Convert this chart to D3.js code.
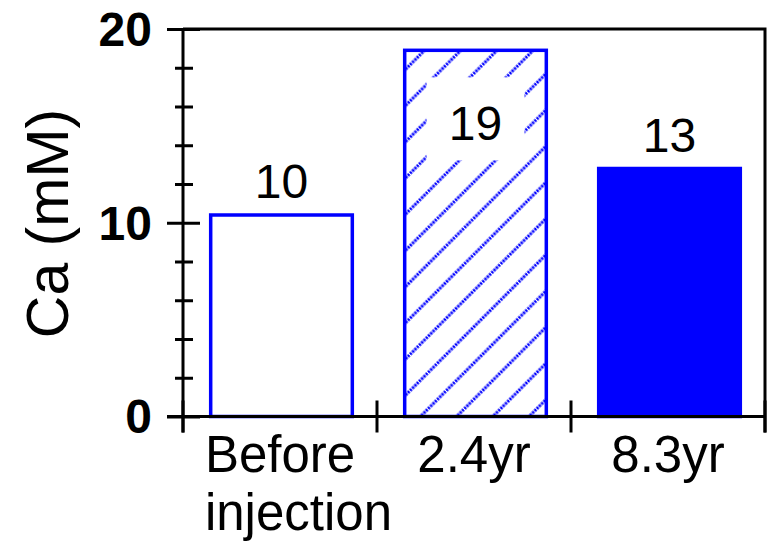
<!DOCTYPE html>
<html>
<head>
<meta charset="utf-8">
<script src="https://cdn.jsdelivr.net/npm/d3@7"></script>
<style>
  body { margin: 0; background: #fff; }
  text { font-family: "Liberation Sans", Arial, sans-serif; fill: #000; }
</style>
</head>
<body>
<div id="chart"></div>
<script>
// data
const categories = ["Before injection", "2.4yr", "8.3yr"];
const caValues = [10.4, 18.9, 12.8];
const valueLabels = ["10", "19", "13"];
const yMajorTicks = [0, 10, 20];
const yMinorTicks = [2, 4, 6, 8, 12, 14, 16, 18];

// styles, one per bar
const barFills = ["#ffffff", "url(#hatch)", "#0000ff"];
const blue = "#0000ff";

const W = 771, H = 546;
const plot = {left: 183, right: 765, top: 29, bottom: 416.5};

const svg = d3.select("#chart").append("svg")
    .attr("width", W)
    .attr("height", H);

// hatch pattern for the middle bar
const defs = svg.append("defs");
const pat = defs.append("pattern")
    .attr("id", "hatch")
    .attr("patternUnits", "userSpaceOnUse")
    .attr("width", 25.6)
    .attr("height", 25.6)
    .attr("patternTransform", "rotate(45)");
pat.append("rect").attr("width", 25.6).attr("height", 25.6).attr("fill", "#fff");
pat.append("line")
    .attr("x1", 3).attr("y1", 0)
    .attr("x2", 3).attr("y2", 25.6)
    .attr("stroke", blue)
    .attr("stroke-width", 3)
    .attr("stroke-dasharray", "2.2 1");

const x = d3.scaleBand()
    .domain(categories)
    .range([plot.left, plot.right])
    .paddingInner(0.27)
    .paddingOuter(0.135);

const y = d3.scaleLinear()
    .domain([0, 20])
    .range([plot.bottom, plot.top]);

// bars
svg.append("g").selectAll("rect")
    .data(caValues)
    .join("rect")
    .attr("x", (d, i) => x(categories[i]) + 1.5)
    .attr("y", d => y(d))
    .attr("width", x.bandwidth())
    .attr("height", d => y(0) - y(d))
    .attr("fill", (d, i) => barFills[i])
    .attr("stroke", blue)
    .attr("stroke-width", 3.5);

// value labels (inside the bar when there is no room above it)
const labelSize = 48;
const lab = svg.append("g").selectAll("g")
    .data(caValues)
    .join("g")
    .attr("transform", (d, i) => {
        const cx = x(categories[i]) + x.bandwidth() / 2 + 1.5;
        let by = y(d) - 17;
        if (by - labelSize * 0.72 < plot.top) by = y(d) + 90;
        return `translate(${cx},${by})`;
    });
lab.filter(d => y(d) - 17 - labelSize * 0.72 < plot.top)
    .append("rect")
    .attr("x", -49).attr("y", -63)
    .attr("width", 98).attr("height", 83)
    .attr("fill", "#fff");
lab.append("text")
    .attr("text-anchor", "middle")
    .attr("font-size", labelSize + "px")
    .text((d, i) => valueLabels[i]);

// y axis, major ticks
const yAxis = svg.append("g")
    .attr("transform", `translate(${plot.left},0)`)
    .call(d3.axisLeft(y).tickValues(yMajorTicks).tickSize(16).tickPadding(15).tickFormat(d3.format("d")));
yAxis.select(".domain").remove();
yAxis.selectAll(".tick line").attr("x1", 17).attr("stroke", "#000").attr("stroke-width", 3);
yAxis.selectAll(".tick text")
    .attr("font-size", "48px")
    .attr("font-weight", "bold")
    .attr("font-family", "Liberation Sans, Arial, sans-serif")
    .attr("dy", "0.34em");

// y axis, minor ticks
const yMinor = svg.append("g")
    .attr("transform", `translate(${plot.left},0)`)
    .call(d3.axisLeft(y).tickValues(yMinorTicks).tickSize(8).tickFormat(""));
yMinor.select(".domain").remove();
yMinor.selectAll(".tick line").attr("x1", 10).attr("stroke", "#000").attr("stroke-width", 3);

// x axis labels
const xAxis = svg.append("g")
    .attr("transform", `translate(0,${plot.bottom})`)
    .call(d3.axisBottom(x).tickSize(0).tickPadding(0));
xAxis.select(".domain").remove();
xAxis.selectAll(".tick text")
    .attr("font-size", "51px")
    .attr("font-family", "Liberation Sans, Arial, sans-serif")
    .attr("y", 55.5)
    .attr("dy", null)
    .each(function(d) {
        const t = d3.select(this);
        const words = d.split(" ");
        t.text(null);
        const first = t.append("tspan").attr("x", 0).text(words[0]);
        if (words.length > 1) {
            // further lines start where the first (centred) line starts
            const left = -first.node().getComputedTextLength() / 2;
            t.attr("text-anchor", "start");
            first.attr("x", left);
            words.slice(1).forEach(w => {
                t.append("tspan").attr("x", left).attr("dy", 58).text(w);
            });
        }
    });

// frame lines
const frame = svg.append("g")
    .attr("stroke", "#000")
    .attr("stroke-width", 3)
    .attr("fill", "none");
frame.append("path").attr("d", `M${plot.left},${plot.top}V432.5`);
frame.append("path").attr("d", `M${plot.left},${plot.top}H${plot.right}V432.5`);
frame.append("path").attr("d", `M167,${plot.bottom}H${plot.right}`);

// category boundary ticks on the x axis
const edges = categories.map(c => x(c) - x.step() * x.paddingInner() / 2);
edges.push(plot.right);
frame.selectAll("line.xt")
    .data(edges)
    .join("line")
    .attr("class", "xt")
    .attr("x1", d => d).attr("x2", d => d)
    .attr("y1", plot.bottom - 16).attr("y2", 432.5);

// y title
svg.append("text")
    .attr("transform", "translate(68,223.5) rotate(-90)")
    .attr("text-anchor", "middle")
    .attr("font-size", "59px")
    .text("Ca (mM)");
</script>
</body>
</html>
